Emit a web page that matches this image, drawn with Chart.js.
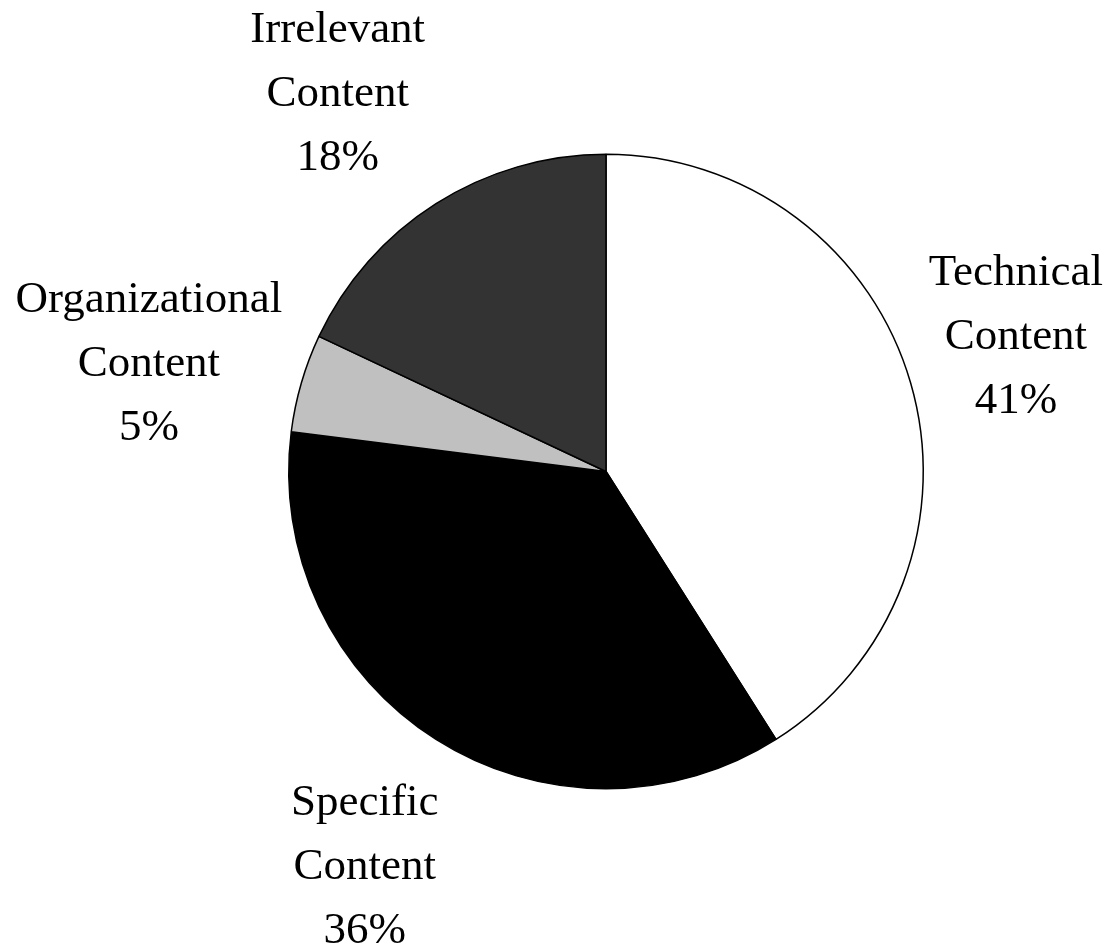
<!DOCTYPE html>
<html>
<head>
<meta charset="utf-8">
<script src="https://cdn.jsdelivr.net/npm/chart.js@4"></script>
<style>
  html, body { margin: 0; padding: 0; background: #fff; }
  #wrap { width: 1110px; height: 949px; }
</style>
</head>
<body>
<div id="wrap"><canvas id="pieChart"></canvas></div>
<script>
// dati del grafico
const categories = ['Technical Content', 'Specific Content', 'Organizational Content', 'Irrelevant Content'];
const shares = [41, 36, 5, 18];
const sliceColors = ['#ffffff', '#000000', '#c0c0c0', '#333333'];

// posizione delle etichette: distanza (in raggi) e spostamento angolare (gradi)
const labelDist = [1.36, 1.46, 1.48, 1.46];
const labelNudge = [-2, -1, -3, -3];

// plugin per disegnare le etichette fuori dalla torta
const outsideLabels = {
  id: 'outsideLabels',
  afterDatasetsDraw(chart) {
    const ctx = chart.ctx;
    const meta = chart.getDatasetMeta(0);
    ctx.save();
    ctx.font = '45px "Liberation Serif", "Times New Roman", serif';
    ctx.fillStyle = '#000';
    ctx.textAlign = 'center';
    ctx.textBaseline = 'middle';
    meta.data.forEach((arc, i) => {
      const mid = (arc.startAngle + arc.endAngle) / 2 + labelNudge[i] * Math.PI / 180;
      const r = arc.outerRadius * labelDist[i];
      const x = arc.x + Math.cos(mid) * r;
      const y = arc.y + Math.sin(mid) * r;
      const words = categories[i].split(' ');
      const lines = [words[0], words[1], shares[i] + '%'];
      lines.forEach((t, k) => {
        ctx.fillText(t, x, y + (k - 1) * 64);
      });
    });
    ctx.restore();
  }
};

const pieChart = new Chart(document.getElementById('pieChart'), {
  type: 'pie',
  data: {
    labels: categories,
    datasets: [{
      data: shares,
      backgroundColor: sliceColors,
      borderColor: '#000',
      borderWidth: 1.5
    }]
  },
  options: {
    responsive: true,
    maintainAspectRatio: false,
    animation: false,
    layout: { padding: { left: 288, right: 186, top: 153, bottom: 159 } },
    plugins: {
      legend: { display: false },
      tooltip: { enabled: false }
    }
  },
  plugins: [outsideLabels]
});
</script>
</body>
</html>
